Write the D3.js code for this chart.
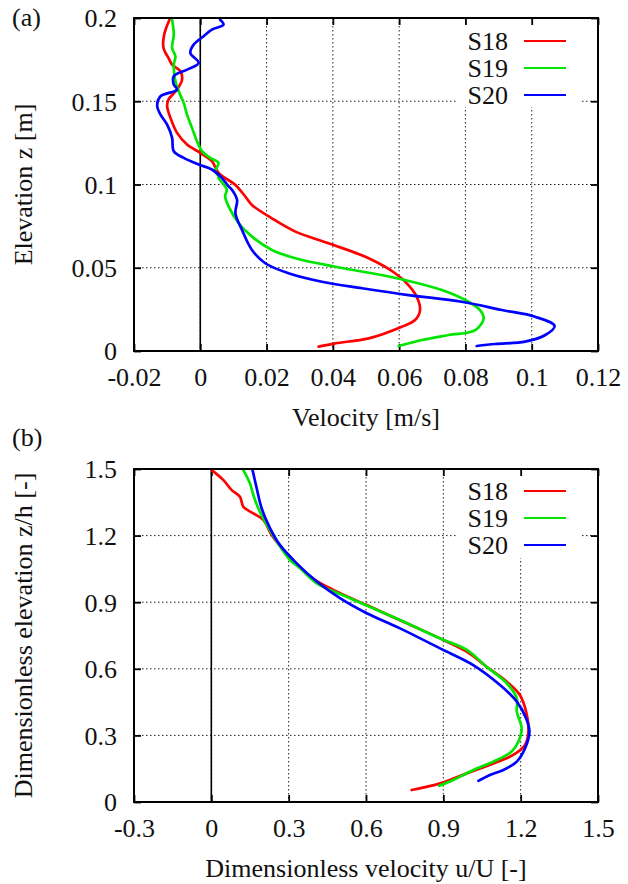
<!DOCTYPE html>
<html>
<head>
<meta charset="utf-8">
<script src="https://cdn.jsdelivr.net/npm/d3@7"></script>
<style>
  html, body { margin: 0; padding: 0; background: #fff; }
  svg { display: block; }
  svg text { font-family: "Liberation Serif", "Times New Roman", Times, "DejaVu Serif", serif !important; fill: #111; }
</style>
</head>
<body>
<svg id="chart" width="628" height="884"></svg>
<script>
// ---------- Data ----------
const seriesNames = ["S18", "S19", "S20"];
const seriesColors = ["#ff0000", "#00e600", "#0000ff"];

// Panel (a): velocity [m/s] vs elevation z [m]
const aS18vel = [-0.0093,-0.0109,-0.0111,-0.0096,-0.0085,-0.006,-0.0055,-0.007,-0.0096,-0.010,-0.009,-0.007,-0.004,0,0.0035,0.0055,0.0106,0.0136,0.0156,0.0216,0.0287,0.0387,0.0508,0.0588,0.0628,0.0653,0.0663,0.0648,0.0608,0.0508,0.0407,0.0357];
const aS18z   = [0.199,0.190,0.182,0.176,0.172,0.168,0.163,0.157,0.151,0.147,0.140,0.131,0.124,0.119,0.114,0.107,0.0997,0.0927,0.0877,0.0797,0.0717,0.0647,0.0557,0.0467,0.0396,0.0326,0.0246,0.0186,0.0146,0.0076,0.0046,0.0026];

const aS19vel = [-0.0085,-0.008,-0.0085,-0.0075,-0.008,-0.0075,-0.0065,-0.005,-0.004,-0.0025,-0.001,0.0005,0.003,0.0055,0.0045,0.0055,0.0055,0.008,0.0075,0.0085,0.0116,0.0156,0.0216,0.0287,0.0407,0.0518,0.0618,0.0729,0.0809,0.0844,0.0855,0.0830,0.0749,0.0669,0.0599];
const aS19z   = [0.199,0.190,0.182,0.177,0.172,0.162,0.156,0.149,0.142,0.134,0.126,0.120,0.116,0.113,0.108,0.105,0.104,0.097,0.093,0.087,0.0767,0.0687,0.0607,0.0557,0.0506,0.0467,0.0426,0.0366,0.0296,0.0246,0.0196,0.0126,0.0096,0.0066,0.0030];

const aS20vel = [0.006,0.007,0.0035,0.001,-0.002,-0.003,-0.0005,-0.004,-0.008,-0.008,-0.007,-0.012,-0.013,-0.012,-0.010,-0.0085,-0.008,-0.005,-0.0005,0.0035,0.0065,0.0085,0.0096,0.0111,0.0106,0.0126,0.0156,0.0196,0.0266,0.0367,0.0488,0.0628,0.0789,0.0910,0.1010,0.1069,0.1041,0.0980,0.0890,0.0834];
const aS20z   = [0.199,0.196,0.193,0.189,0.184,0.179,0.173,0.169,0.165,0.160,0.157,0.153,0.147,0.142,0.136,0.128,0.120,0.116,0.112,0.109,0.104,0.099,0.0967,0.0907,0.0827,0.0727,0.0607,0.0527,0.0467,0.0416,0.0377,0.0336,0.0296,0.0246,0.0206,0.0150,0.0096,0.0056,0.0042,0.0030];

// Panel (b): dimensionless velocity u/U vs dimensionless elevation z/h
const bS18u = [0.0015,0.047,0.079,0.111,0.124,0.163,0.202,0.234,0.292,0.383,0.473,0.603,0.758,0.900,0.991,1.068,1.146,1.197,1.221,1.230,1.217,1.171,1.094,0.991,0.888,0.777];
const bS18z = [1.495,1.45,1.405,1.375,1.330,1.30,1.270,1.203,1.120,1.015,0.955,0.887,0.805,0.730,0.677,0.609,0.542,0.482,0.407,0.317,0.257,0.212,0.174,0.129,0.084,0.054];

const bS19u = [0.124,0.150,0.163,0.182,0.215,0.254,0.305,0.344,0.409,0.538,0.732,0.887,0.991,1.068,1.146,1.185,1.185,1.204,1.191,1.165,1.094,1.016,0.939,0.884];
const bS19z = [1.495,1.435,1.383,1.323,1.248,1.173,1.090,1.053,0.985,0.918,0.820,0.737,0.685,0.609,0.535,0.467,0.407,0.332,0.272,0.227,0.182,0.144,0.099,0.073];

const bS20u = [0.160,0.176,0.195,0.228,0.266,0.331,0.409,0.499,0.603,0.732,0.887,1.016,1.120,1.185,1.221,1.234,1.217,1.185,1.133,1.081,1.036];
const bS20z = [1.495,1.413,1.323,1.233,1.158,1.075,0.993,0.918,0.850,0.782,0.692,0.617,0.527,0.452,0.377,0.317,0.242,0.182,0.144,0.122,0.095];

// Tick labels
const aXTicks = [-0.02, 0, 0.02, 0.04, 0.06, 0.08, 0.1, 0.12];
const aYTicks = [0, 0.05, 0.1, 0.15, 0.2];
const bXTicks = [-0.3, 0, 0.3, 0.6, 0.9, 1.2, 1.5];
const bYTicks = [0, 0.3, 0.6, 0.9, 1.2, 1.5];

// ---------- Drawing ----------
const FONT = 26;
const FAMILY = "Liberation Serif, Times New Roman, DejaVu Serif, serif";
const svg = d3.select("#chart").attr("font-family", FAMILY);

function zip(xs, ys) { return xs.map((x, i) => [x, ys[i]]); }
function fmt(d) { return String(+d.toFixed(3)); }

function panel(cfg) {
  const { left, right, top, bottom, xDomain, yDomain, xTicks, yTicks, series,
          xLabel, yLabel, tag, legendBox } = cfg;
  const x = d3.scaleLinear().domain(xDomain).range([left, right]);
  const y = d3.scaleLinear().domain(yDomain).range([bottom, top]);
  const g = svg.append("g").attr("font-family", FAMILY);

  // Grid (dotted)
  const grid = g.append("g").attr("stroke", "#222").attr("stroke-width", 1)
    .attr("stroke-dasharray", "1.5,2.5");
  grid.selectAll("line.gx").data(xTicks.slice(1, -1)).join("line")
    .attr("x1", d => x(d)).attr("x2", d => x(d))
    .attr("y1", top).attr("y2", bottom);
  grid.selectAll("line.gy").data(yTicks.slice(1, -1)).join("line")
    .attr("x1", left).attr("x2", right)
    .attr("y1", d => y(d)).attr("y2", d => y(d));

  // Legend background (hides grid behind legend)
  g.append("rect")
    .attr("x", legendBox[0]).attr("y", legendBox[1])
    .attr("width", legendBox[2]).attr("height", legendBox[3])
    .attr("fill", "#fff");

  // Zero line
  g.append("line")
    .attr("x1", x(0)).attr("x2", x(0)).attr("y1", top).attr("y2", bottom)
    .attr("stroke", "#000").attr("stroke-width", 1.6);

  // Axes: ticks inward on all four sides
  const tk = 7;
  const axB = d3.axisBottom(x).tickValues(xTicks).tickSizeInner(-tk).tickSizeOuter(0).tickPadding(17).tickFormat(fmt);
  const axT = d3.axisTop(x).tickValues(xTicks).tickSizeInner(-tk).tickSizeOuter(0).tickFormat("");
  const axL = d3.axisLeft(y).tickValues(yTicks).tickSizeInner(-tk).tickSizeOuter(0).tickPadding(17).tickFormat(fmt);
  const axR = d3.axisRight(y).tickValues(yTicks).tickSizeInner(-tk).tickSizeOuter(0).tickFormat("");

  function styleAxis(sel) {
    sel.attr("font-family", FAMILY).attr("font-size", FONT);
    sel.select(".domain").remove();
    sel.selectAll(".tick line").attr("stroke", "#000").attr("stroke-width", 1.8);
    sel.selectAll(".tick text").attr("font-size", FONT).attr("fill", "#111");
  }
  g.append("g").attr("transform", `translate(0,${bottom})`).call(axB).call(styleAxis)
    .selectAll(".tick text").attr("dy", "0.68em");
  g.append("g").attr("transform", `translate(0,${top})`).call(axT).call(styleAxis);
  g.append("g").attr("transform", `translate(${left},0)`).call(axL).call(styleAxis)
    .selectAll(".tick text").attr("dy", "0.34em");
  g.append("g").attr("transform", `translate(${right},0)`).call(axR).call(styleAxis);

  // Data lines
  const line = d3.line().x(d => x(d[0])).y(d => y(d[1])).curve(d3.curveCatmullRom.alpha(0.5));
  series.forEach((s, i) => {
    g.append("path").datum(s)
      .attr("d", line)
      .attr("fill", "none")
      .attr("stroke", seriesColors[i])
      .attr("stroke-width", 2.7)
      .attr("stroke-linejoin", "round")
      .attr("stroke-linecap", "round");
  });

  // Frame
  g.append("rect")
    .attr("x", left).attr("y", top)
    .attr("width", right - left).attr("height", bottom - top)
    .attr("fill", "none").attr("stroke", "#000").attr("stroke-width", 2);

  // Legend
  const lg = g.append("g");
  seriesNames.forEach((name, i) => {
    const ly = cfg.legendY + i * 27;
    lg.append("text").attr("x", 508).attr("y", ly + 9)
      .attr("text-anchor", "end").attr("font-size", FONT).text(name);
    lg.append("line").attr("x1", 524).attr("x2", 566)
      .attr("y1", ly).attr("y2", ly)
      .attr("stroke", seriesColors[i]).attr("stroke-width", 2);
  });

  // Axis titles
  g.append("text").attr("x", (left + right) / 2).attr("y", cfg.xLabelY)
    .attr("text-anchor", "middle").attr("font-size", FONT).text(xLabel);
  g.append("text")
    .attr("transform", `translate(${cfg.yLabelX},${(top + bottom) / 2}) rotate(-90)`)
    .attr("text-anchor", "middle").attr("font-size", FONT).text(yLabel);

  // Panel tag
  g.append("text").attr("x", 12).attr("y", cfg.tagY)
    .attr("font-size", FONT).text(tag);
}

panel({
  left: 134, right: 598, top: 18, bottom: 351,
  xDomain: [-0.02, 0.12], yDomain: [0, 0.2],
  xTicks: aXTicks, yTicks: aYTicks,
  series: [zip(aS18vel, aS18z), zip(aS19vel, aS19z), zip(aS20vel, aS20z)],
  xLabel: "Velocity [m/s]", yLabel: "Elevation z [m]", tag: "(a)",
  legendBox: [458, 19, 124, 88], legendY: 41,
  xLabelY: 426, yLabelX: 32, tagY: 26
});

panel({
  left: 134, right: 598, top: 469, bottom: 802,
  xDomain: [-0.3, 1.5], yDomain: [0, 1.5],
  xTicks: bXTicks, yTicks: bYTicks,
  series: [zip(bS18u, bS18z), zip(bS19u, bS19z), zip(bS20u, bS20z)],
  xLabel: "Dimensionless velocity u/U [-]", yLabel: "Dimensionless elevation z/h [-]", tag: "(b)",
  legendBox: [458, 470, 124, 88], legendY: 491,
  xLabelY: 877, yLabelX: 32, tagY: 446
});
</script>
</body>
</html>
